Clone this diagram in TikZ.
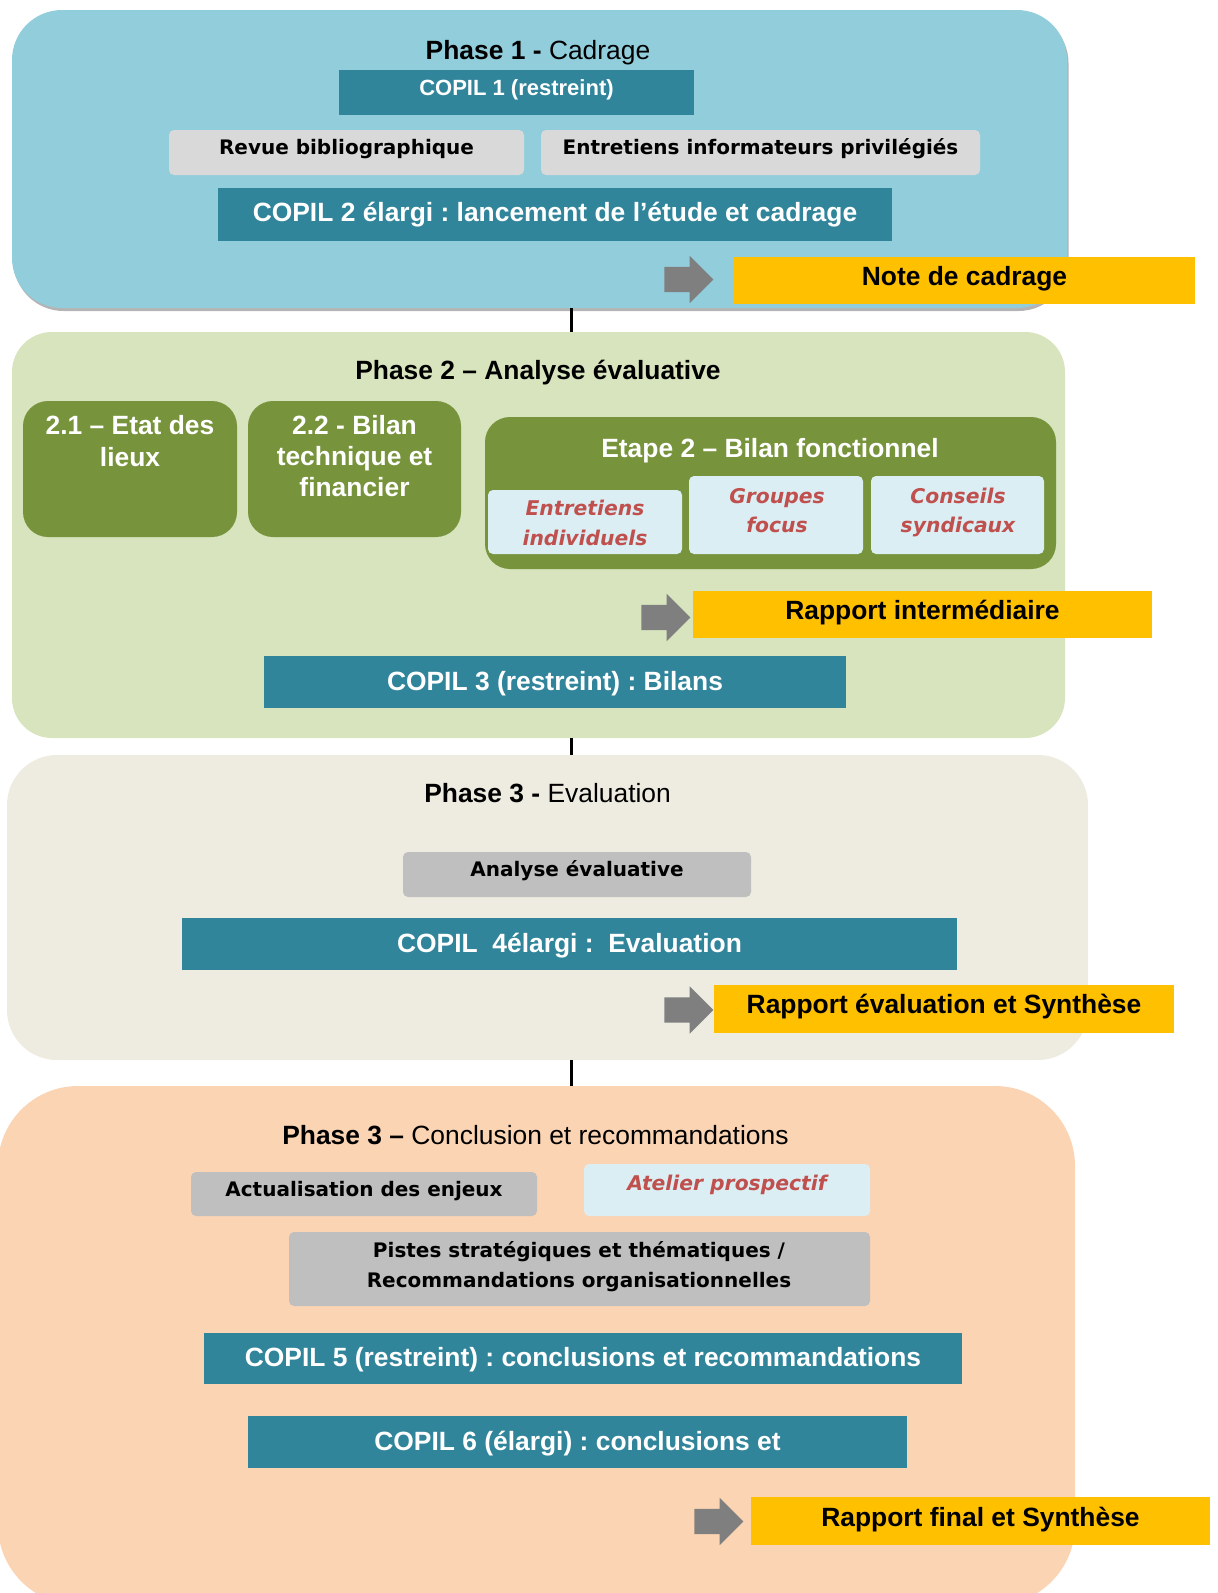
\documentclass[tikz,border=0pt]{standalone}
\usepackage{fontspec}
\setmainfont{Liberation Sans}
\newfontfamily\vfont{DejaVu Sans}
\usetikzlibrary{shapes.arrows}
\frenchspacing
\definecolor{phA}{HTML}{92CDDC}
\definecolor{phB}{HTML}{D7E4BD}
\definecolor{phC}{HTML}{EEECE1}
\definecolor{phD}{HTML}{FBD4B4}
\definecolor{teal}{HTML}{31859B}
\definecolor{olive}{HTML}{77933C}
\definecolor{lblue}{HTML}{DBEEF4}
\definecolor{redt}{HTML}{C0504D}
\definecolor{grayA}{HTML}{D9D9D9}
\definecolor{grayB}{HTML}{BFBFBF}
\definecolor{yel}{HTML}{FFC000}
\definecolor{arrgray}{HTML}{7F7F7F}
\definecolor{shadowgray}{HTML}{B4B4B4}
\tikzset{
  phase/.style={rounded corners=#1, inner sep=0pt, draw=none},
  bigfont/.style={font=\fontsize{26.4}{31}\selectfont\bfseries, text height=19pt},
  vfontb/.style={font=\vfont\fontsize{20}{24}\selectfont\bfseries, text height=14.6pt},
  vfonti/.style={font=\vfont\fontsize{20.3}{24}\selectfont\bfseries\itshape, text height=14.6pt, text=redt},
  tealbox/.style={fill=teal, text=white, inner sep=0pt, bigfont},
  yelbox/.style={fill=yel, text=black, inner sep=0pt, bigfont},
  graybox/.style={fill=#1, rounded corners=5pt, inner sep=0pt, vfontb},
  bluebox/.style={fill=lblue, rounded corners=5pt, inner sep=0pt},
  olivebox/.style={fill=olive, rounded corners=25pt, inner sep=0pt},
  txtline/.style={inner sep=0pt, text depth=0pt},
  titlefont/.style={txtline, font=\fontsize{26.4}{31}\selectfont, text height=19pt},
  sarrow/.style={single arrow, fill=arrgray, draw=none, inner xsep=0pt, inner ysep=12.5pt,
    minimum height=49pt, single arrow head extend=11pt, single arrow tip angle=90},
  conn/.style={line width=3pt, black}
}
\begin{document}
\begin{tikzpicture}[x=1pt,y=-1pt]
\useasboundingbox (0,0) rectangle (1218,1593);
\clip (0,0) rectangle (1218,1593);
\coordinate (axis) at (571,0);

% ---------- Phase boxes ----------
\node[phase=50pt, fill=shadowgray, minimum width=1055pt, minimum height=298pt] (p1shadow) at (541,162) {};
\node[phase=50pt, fill=phA, minimum width=1055pt, minimum height=298pt] (p1) at (539.5,159) {};
\node[phase=40pt, fill=phB, minimum width=1053pt, minimum height=406pt] (p2) at (538.5,535) {};
\node[phase=50pt, fill=phC, minimum width=1081pt, minimum height=305pt] (p3) at (547.5,907.5) {};
\node[phase=80pt, fill=phD, minimum width=1077pt, minimum height=519pt] (p4) at (536.5,1345.5) {};

% ---------- connectors ----------
\draw[conn] (p1.south -| axis) -- (p2.north -| axis);
\draw[conn] (p2.south -| axis) -- (p3.north -| axis);
\draw[conn] (p3.south -| axis) -- (p4.north -| axis);

% ---------- Phase 1 ----------
\node[titlefont] (t1) at (538,50) {\textbf{Phase 1 -} Cadrage};
\node[tealbox, font=\fontsize{22}{26}\selectfont\bfseries, text height=15.8pt, text depth=10pt,
  minimum width=355pt, minimum height=45pt] (copil1) at (516.5,92.5) {COPIL 1 (restreint)};
\node[graybox=grayA, text depth=10pt, minimum width=355pt, minimum height=45pt] (revue) at (346.5,152.5) {Revue bibliographique};
\node[graybox=grayA, text depth=10pt, minimum width=439pt, minimum height=45pt] (entinf) at (760.5,152.5) {Entretiens informateurs privilégiés};
\node[tealbox, text depth=4.4pt, minimum width=674pt, minimum height=53pt] (copil2) at (555,214.5) {COPIL 2 élargi : lancement de l’étude et cadrage};
\node[sarrow] (arr1) at (682.5,279.5) {};
\node[yelbox, text depth=10pt, minimum width=461pt, minimum height=47pt] (note) at (964.5,280.5) {Note de cadrage};

% ---------- Phase 2 ----------
\node[titlefont, font=\fontsize{26.4}{31}\selectfont\bfseries] (t2) at (538,370) {Phase 2 – Analyse évaluative};
\node[olivebox, minimum width=214pt, minimum height=136pt] (b21) at (130,469) {};
\node[txtline, bigfont, text=white] (b21a) at (130,424.6) {2.1 – Etat des};
\node[txtline, bigfont, text=white] (b21b) at (130,457) {lieux};
\node[olivebox, minimum width=213pt, minimum height=136pt] (b22) at (354.5,469) {};
\node[txtline, bigfont, text=white] (b22a) at (354.5,424.6) {2.2 - Bilan};
\node[txtline, bigfont, text=white] (b22b) at (354.5,456) {technique et};
\node[txtline, bigfont, text=white] (b22c) at (354.5,486.6) {financier};
\node[olivebox, minimum width=571pt, minimum height=152pt] (etape) at (770.5,493) {};
\node[txtline, bigfont, text=white] (etapet) at (770,448) {Etape 2 – Bilan fonctionnel};
\node[bluebox, minimum width=194pt, minimum height=64pt] (ent) at (585,522) {};
\node[txtline, vfonti] (enta) at (585,508) {Entretiens};
\node[txtline, vfonti] (entb) at (585,538.4) {individuels};
\node[bluebox, minimum width=174pt, minimum height=78pt] (grp) at (776,515) {};
\node[txtline, vfonti] (grpa) at (777,495.8) {Groupes};
\node[txtline, vfonti] (grpb) at (777,525.2) {focus};
\node[bluebox, minimum width=173pt, minimum height=78pt] (cons) at (957.5,515) {};
\node[txtline, vfonti] (consa) at (958,495.8) {Conseils};
\node[txtline, vfonti] (consb) at (958,525.2) {syndicaux};
\node[sarrow] (arr2) at (659.5,617.5) {};
\node[yelbox, text depth=10pt, minimum width=459pt, minimum height=47pt] (rapint) at (922.5,614.5) {Rapport intermédiaire};
\node[tealbox, text depth=3pt, minimum width=582pt, minimum height=52pt] (copil3) at (555,682) {COPIL 3 (restreint) : Bilans};

% ---------- Phase 3 ----------
\node[titlefont] (t3) at (547.6,793.4) {\textbf{Phase 3 -} Evaluation};
\node[graybox=grayB, text depth=10pt, minimum width=348pt, minimum height=45pt] (analyse) at (577,874.5) {Analyse évaluative};
\node[tealbox, text depth=2.5pt, minimum width=775pt, minimum height=52pt] (copil4) at (569.5,944) {COPIL\ \ 4élargi :\ \ Evaluation};
\node[sarrow] (arr3) at (682.5,1010) {};
\node[yelbox, text depth=10.5pt, minimum width=460pt, minimum height=48pt] (rapeval) at (944,1009) {Rapport évaluation et Synthèse};

% ---------- Phase 4 ----------
\node[titlefont] (t4) at (535.4,1134.8) {\textbf{Phase 3 –} Conclusion et recommandations};
\node[graybox=grayB, text depth=9pt, minimum width=346pt, minimum height=44pt] (actual) at (364,1194) {Actualisation des enjeux};
\node[bluebox, vfonti, text depth=13pt, minimum width=286pt, minimum height=52pt] (atelier) at (727,1190) {Atelier prospectif};
\node[graybox=grayB, minimum width=581pt, minimum height=74pt] (pistes) at (579.5,1269) {};
\node[txtline, vfontb] (pistesa) at (579,1250.6) {Pistes stratégiques et thématiques /};
\node[txtline, vfontb] (pistesb) at (579,1280) {Recommandations organisationnelles};
\node[tealbox, text depth=2.6pt, minimum width=758pt, minimum height=51pt] (copil5) at (583,1358.5) {COPIL 5 (restreint) : conclusions et recommandations};
\node[tealbox, text depth=3pt, minimum width=659pt, minimum height=52pt] (copil6) at (577.5,1442) {COPIL 6 (élargi) : conclusions et};
\node[sarrow] (arr4) at (712.5,1521.5) {};
\node[yelbox, text depth=8.6pt, minimum width=459pt, minimum height=48pt] (rapfinal) at (980.5,1521) {Rapport final et Synthèse};
\end{tikzpicture}
\end{document}
